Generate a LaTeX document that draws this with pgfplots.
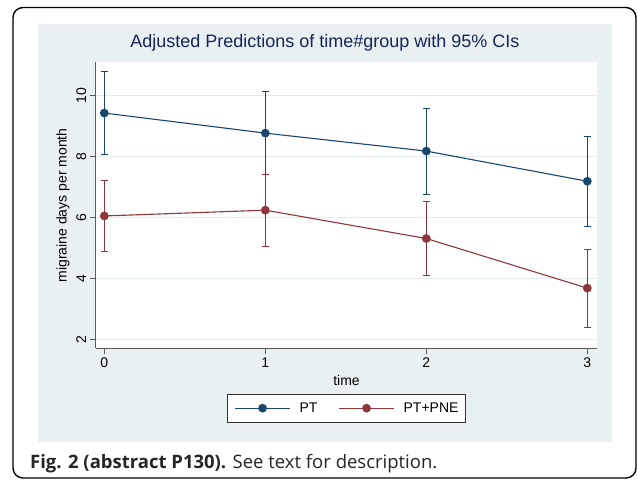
\documentclass[border=0pt]{standalone}
\usepackage{fontspec}
\setmainfont{Liberation Sans}
\newfontfamily\capfont{Open Sans}
\usepackage{pgfplots}
\pgfplotsset{compat=1.18}
\definecolor{ptblue}{RGB}{26,71,111}
\definecolor{ptred}{RGB}{144,53,59}
\definecolor{panel}{RGB}{233,240,242}
\definecolor{gridc}{RGB}{226,236,239}
\definecolor{titlec}{RGB}{22,38,86}
\definecolor{axisc}{RGB}{90,90,90}

% time, margin, CI half-widths (upper, lower)
\pgfplotstableread{
t  m     ep    em
0  9.43  1.36  1.35
1  8.77  1.37  1.37
2  8.18  1.41  1.42
3  7.19  1.47  1.48
}\datapt
\pgfplotstableread{
t  m     ep    em
0  6.05  1.16  1.18
1  6.24  1.18  1.20
2  5.31  1.20  1.21
3  3.68  1.27  1.29
}\datapne

\begin{document}
\begin{tikzpicture}[x=1pt,y=1pt]
  \useasboundingbox (0,0) rectangle (637,480);
  \fill[white] (0,0) rectangle (637,480);
  \draw[line width=1.4pt, rounded corners=10pt] (13,2) rectangle (636,472.5);
  \fill[panel] (38.3,38.3) rectangle (611.7,455.7);
  \node[anchor=base west, inner sep=0, text=black!85] at (30,12)
    {\capfont\fontsize{18.5}{18.5}\selectfont\textbf{Fig. 2 (abstract P130).} See text for description.};

  \begin{axis}[
    at={(95.7pt,131.7pt)}, anchor=south west,
    scale only axis, width=501.6pt, height=285.8pt,
    xmin=-0.0534, xmax=3.062, ymin=1.704, ymax=11.09,
    axis x line*=bottom, axis y line*=left,
    axis line style={-, axisc, line width=0.9pt},
    axis background/.style={fill=white},
    xtick={0,1,2,3}, ytick={2,4,6,8,10},
    tick align=outside, major tick length=6pt,
    tick style={axisc, line width=0.9pt},
    ymajorgrids, grid style={gridc, line width=0.9pt},
    /pgf/number format/assume math mode=true,
    ticklabel style={font=\fontsize{14}{14}\selectfont},
    yticklabel style={rotate=90, anchor=south},
    title={Adjusted Predictions of time\#group with 95\% CIs},
    title style={at={(axis description cs:0.457,1.047)}, anchor=center,
      font=\fontsize{18}{18}\selectfont, text=titlec},
    xlabel={time},
    xlabel style={at={(axis description cs:0.5,-0.111)}, anchor=center,
      font=\fontsize{14}{14}\selectfont},
    ylabel={migraine days per month},
    ylabel style={at={(axis description cs:-0.0652,0.5)}, anchor=center,
      font=\fontsize{14}{14}\selectfont},
    legend style={at={(axis description cs:0.5,-0.2096)}, anchor=center,
      draw=black!80, line width=0.9pt, fill=white,
      font=\fontsize{14}{14}\selectfont, inner xsep=7pt, inner ysep=8.5pt,
      nodes={inner sep=0pt},
      /tikz/every odd column/.append style={column sep=9pt},
      /tikz/every even column/.append style={column sep=21pt}},
    legend columns=2,
    legend image code/.code={\draw[mark repeat=2,mark phase=2,#1]
      plot coordinates {(0pt,0pt) (27.5pt,0pt) (55pt,0pt)};},
  ]
    \addplot[ptblue, line width=1.1pt, mark=*, mark size=3.8pt,
      error bars/.cd, y dir=both, y explicit,
      error bar style={line width=1pt, ptblue},
      error mark options={ptblue, line width=1pt, mark size=3.5pt, rotate=90}]
      table[x=t, y=m, y error plus=ep, y error minus=em] {\datapt};
    \addlegendentry{PT}
    \addplot[ptred, line width=1.1pt, mark=*, mark size=3.8pt,
      error bars/.cd, y dir=both, y explicit,
      error bar style={line width=1pt, ptred},
      error mark options={ptred, line width=1pt, mark size=3.5pt, rotate=90}]
      table[x=t, y=m, y error plus=ep, y error minus=em] {\datapne};
    \addlegendentry{PT+PNE}
  \end{axis}
\end{tikzpicture}
\end{document}
